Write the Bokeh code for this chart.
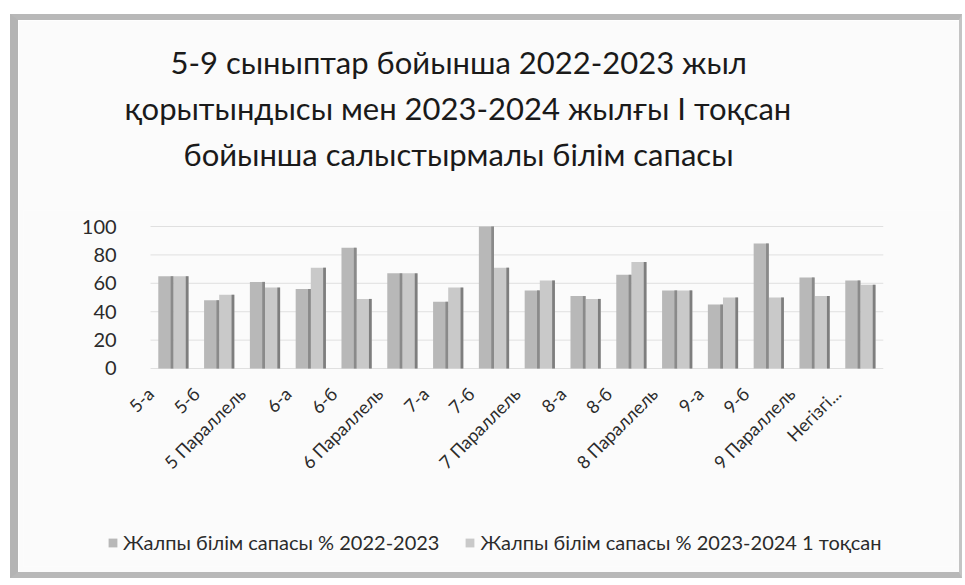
from bokeh.plotting import figure
from bokeh.models import Range1d, Title, Legend, LegendItem, ColumnDataSource, FixedTicker
from bokeh.transform import dodge
from bokeh.embed import file_html
from bokeh.resources import INLINE

categories = ["5-а", "5-б", "5 Параллель", "6-а", "6-б", "6 Параллель",
              "7-а", "7-б", "7 Параллель", "8-а", "8-б", "8 Параллель",
              "9-а", "9-б", "9 Параллель", "Негізгі..."]
quality_2022_2023 = [65, 48, 61, 56, 85, 67, 47, 100, 55, 51, 66, 55, 45, 88, 64, 62]
quality_2023_2024_q1 = [65, 52, 57, 71, 49, 67, 57, 71, 62, 49, 75, 55, 50, 50, 51, 59]
y_ticks = [0, 20, 40, 60, 80, 100]
title_lines = ["5-9 сыныптар бойынша 2022-2023 жыл",
               "қорытындысы мен 2023-2024 жылғы І тоқсан",
               "бойынша салыстырмалы білім сапасы"]
title_offsets = [147, 101, 160]
legend_labels = ["Жалпы білім сапасы % 2022-2023",
                 "Жалпы білім сапасы % 2023-2024 1 тоқсан"]

FONT = "Lato"
TEXT = "#2b2b2b"

n = len(categories)
idx = list(range(n))
src = ColumnDataSource(dict(idx=idx, cat=categories,
                            a=quality_2022_2023, b=quality_2023_2024_q1))
grid_src = ColumnDataSource(dict(y=y_ticks, x0=[0] * len(y_ticks), x1=[n] * len(y_ticks)))

# the frame covers the whole inner area; axes are pinned inside it
p = figure(x_range=Range1d(-2.773, 17.555), y_range=Range1d(-139.44, 111.27),
           width=941, height=552, output_backend="svg", toolbar_location=None,
           min_border_left=5, min_border_right=16, min_border_top=190,
           min_border_bottom=18,
           background_fill_color="#fbfbfb", border_fill_color="#fbfbfb")
p.styles = {"box-sizing": "content-box", "margin-left": "10px", "margin-top": "14px",
            "border-left": "8px solid #b4b4b4", "border-top": "6px solid #b8b8b8",
            "border-bottom": "6px solid #b8b8b8", "border-right": "3px solid #c4c4c4"}
p.outline_line_color = None

# spacer closest to the frame, then lines from bottom to top
p.add_layout(Title(text=" ", text_font=FONT, text_font_size="16px", standoff=14), "above")
for line, off in reversed(list(zip(title_lines, title_offsets))):
    p.add_layout(Title(text=line, align="left", offset=off, text_font=FONT,
                       text_font_size="31px", text_font_style="normal",
                       text_color="#1a1a1a", standoff=6), "above")

p.xgrid.grid_line_color = None
p.ygrid.grid_line_color = None
p.segment(x0="x0", x1="x1", y0="y", y1="y", source=grid_src,
          line_color="#e0e0e0", line_width=1)

w = 0.33
ra = p.vbar(x=dodge("idx", 0.5 - 0.165), top="a", width=w, bottom=0,
            source=src, fill_color="#b8b8b8", line_color=None)
rb = p.vbar(x=dodge("idx", 0.5 + 0.165), top="b", width=w, bottom=0,
            source=src, fill_color="#c9c9c9", line_color=None)
# darker side faces
p.vbar(x=dodge("idx", 0.5 - 0.165 + 0.135), top="a", width=0.06, bottom=0,
       source=src, fill_color="#8a8a8a", line_color=None)
p.vbar(x=dodge("idx", 0.5 + 0.165 + 0.135), top="b", width=0.06, bottom=0,
       source=src, fill_color="#7e7e7e", line_color=None)

p.yaxis.fixed_location = -0.5
p.yaxis.ticker = FixedTicker(ticks=y_ticks)
p.yaxis.axis_line_color = None
p.yaxis.major_tick_line_color = None
p.yaxis.minor_tick_line_color = None
p.yaxis.major_label_text_font = FONT
p.yaxis.major_label_text_font_size = "20px"
p.yaxis.major_label_text_color = TEXT
p.yaxis.major_label_standoff = 5

p.xaxis.fixed_location = 0
p.xaxis.ticker = FixedTicker(ticks=idx)
p.xaxis.major_label_overrides = {i: c for i, c in zip(idx, categories)}
p.xaxis.axis_line_color = None
p.xaxis.major_tick_line_color = None
p.xaxis.minor_tick_line_color = None
p.xaxis.major_label_orientation = 0.785
p.xaxis.major_label_text_font = FONT
p.xaxis.major_label_text_font_size = "18px"
p.xaxis.major_label_text_color = TEXT
p.xaxis.major_label_standoff = 16

legend = Legend(items=[LegendItem(label=legend_labels[0], renderers=[ra]),
                       LegendItem(label=legend_labels[1], renderers=[rb])],
                orientation="horizontal", location=(84, 12), margin=0, padding=6,
                label_text_font=FONT, label_text_font_size="20px", label_text_color=TEXT,
                glyph_width=11, glyph_height=11, spacing=25, label_standoff=5,
                background_fill_alpha=0, border_line_color=None)
p.add_layout(legend, "center")

open("out.html", "w").write(file_html(p, INLINE))
